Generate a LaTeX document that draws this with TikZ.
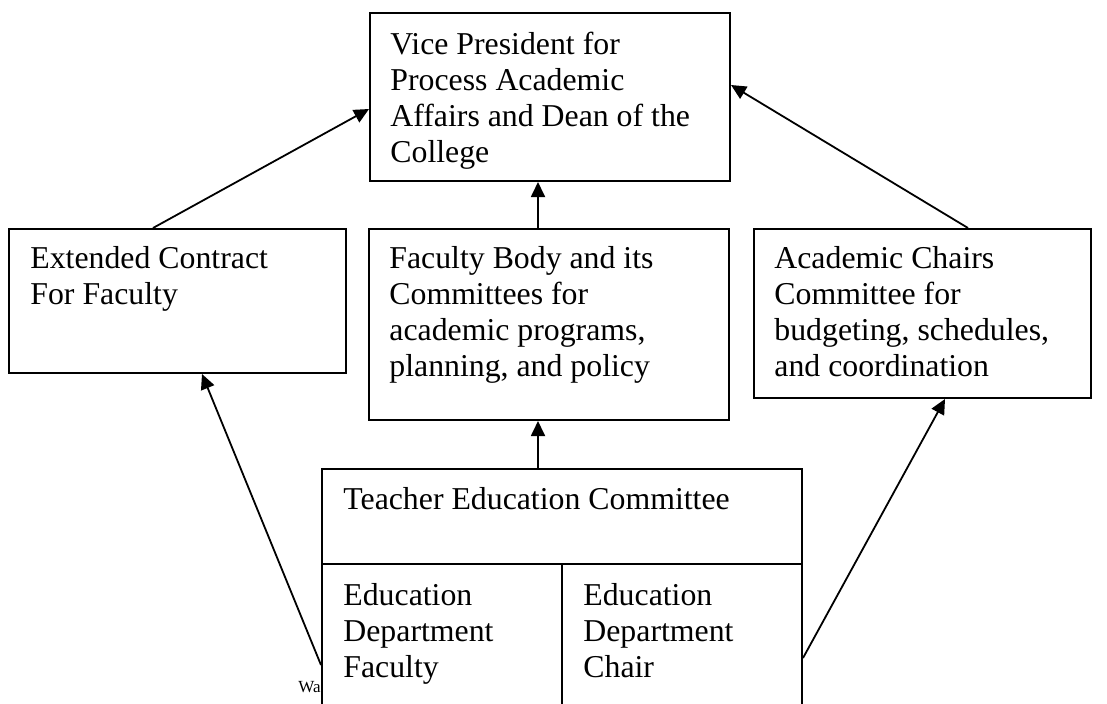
\documentclass[tikz,border=0pt]{standalone}
\usepackage{fontspec}
\setmainfont{Liberation Serif}
\usetikzlibrary{arrows.meta, positioning}

\begin{document}
\begin{tikzpicture}[
    x=0.5pt, y=-0.5pt,
    every node/.style={font=\fontsize{15.9}{18}\selectfont},
    box/.style={rectangle, draw=black, line width=1pt, fill=white, anchor=north west, inner sep=0pt},
    boxtext/.style={anchor=north west, align=left, inner sep=0pt},
    link/.style={-{Triangle[length=7.5pt, width=7pt]}, line width=0.9pt}
]
\clip (0,0) rectangle (1107,703);

\node[anchor=base west, inner sep=0pt, font=\fontsize{8.5}{10}\selectfont] (wa) at (298,692) {Wa};

\node[box, minimum width=180pt, minimum height=84pt] (vp) at (369,12) {};
\node[boxtext] (vptext) at ([shift={(21,20)}]vp.north west) {Vice President for\\Process Academic\\Affairs and Dean of the\\College};

\node[box, minimum width=168.5pt, minimum height=72pt] (ext) at (8,228) {};
\node[boxtext] (exttext) at ([shift={(22,18)}]ext.north west) {Extended Contract\\For Faculty};

\node[box, minimum width=180pt, minimum height=95.5pt] (fac) at (368,228) {};
\node[boxtext] (factext) at ([shift={(21,18)}]fac.north west) {Faculty Body and its\\Committees for\\academic programs,\\planning, and policy};

\node[box, minimum width=168.5pt, minimum height=84.5pt] (chairs) at (753,228) {};
\node[boxtext] (chairstext) at ([shift={(21,18)}]chairs.north west) {Academic Chairs\\Committee for\\budgeting, schedules,\\and coordination};

\node[box, minimum width=240pt, minimum height=130pt] (tec) at (321,468) {};
\draw[line width=1pt] ([shift={(0,96)}]tec.north west) -- ([shift={(0,96)}]tec.north east);
\draw[line width=1pt] ([shift={(0,96)}]tec.north) -- (tec.south);
\node[boxtext] (tectext) at ([shift={(22,19)}]tec.north west) {Teacher Education Committee};
\node[boxtext] (deptfaculty) at ([shift={(22,115)}]tec.north west) {Education\\Department\\Faculty};
\node[boxtext] (deptchair) at ([shift={(21,115)}]tec.north) {Education\\Department\\Chair};

\draw[link] ([shift={(145,0)}]ext.north west) -- ([shift={(0,97)}]vp.north west);
\draw[link] ([shift={(215,0)}]chairs.north west) -- ([shift={(0,73)}]vp.north east);
\draw[link] ([shift={(-11,0)}]fac.north) -- ([shift={(-12,0)}]vp.south);
\draw[link] ([shift={(-24,0)}]tec.north) -- ([shift={(-11,0)}]fac.south);
\draw[link] ([shift={(0,197)}]tec.north west) -- ([shift={(194,0)}]ext.south west);
\draw[link] ([shift={(0,190)}]tec.north east) -- ([shift={(192,0)}]chairs.south west);

\end{tikzpicture}
\end{document}
